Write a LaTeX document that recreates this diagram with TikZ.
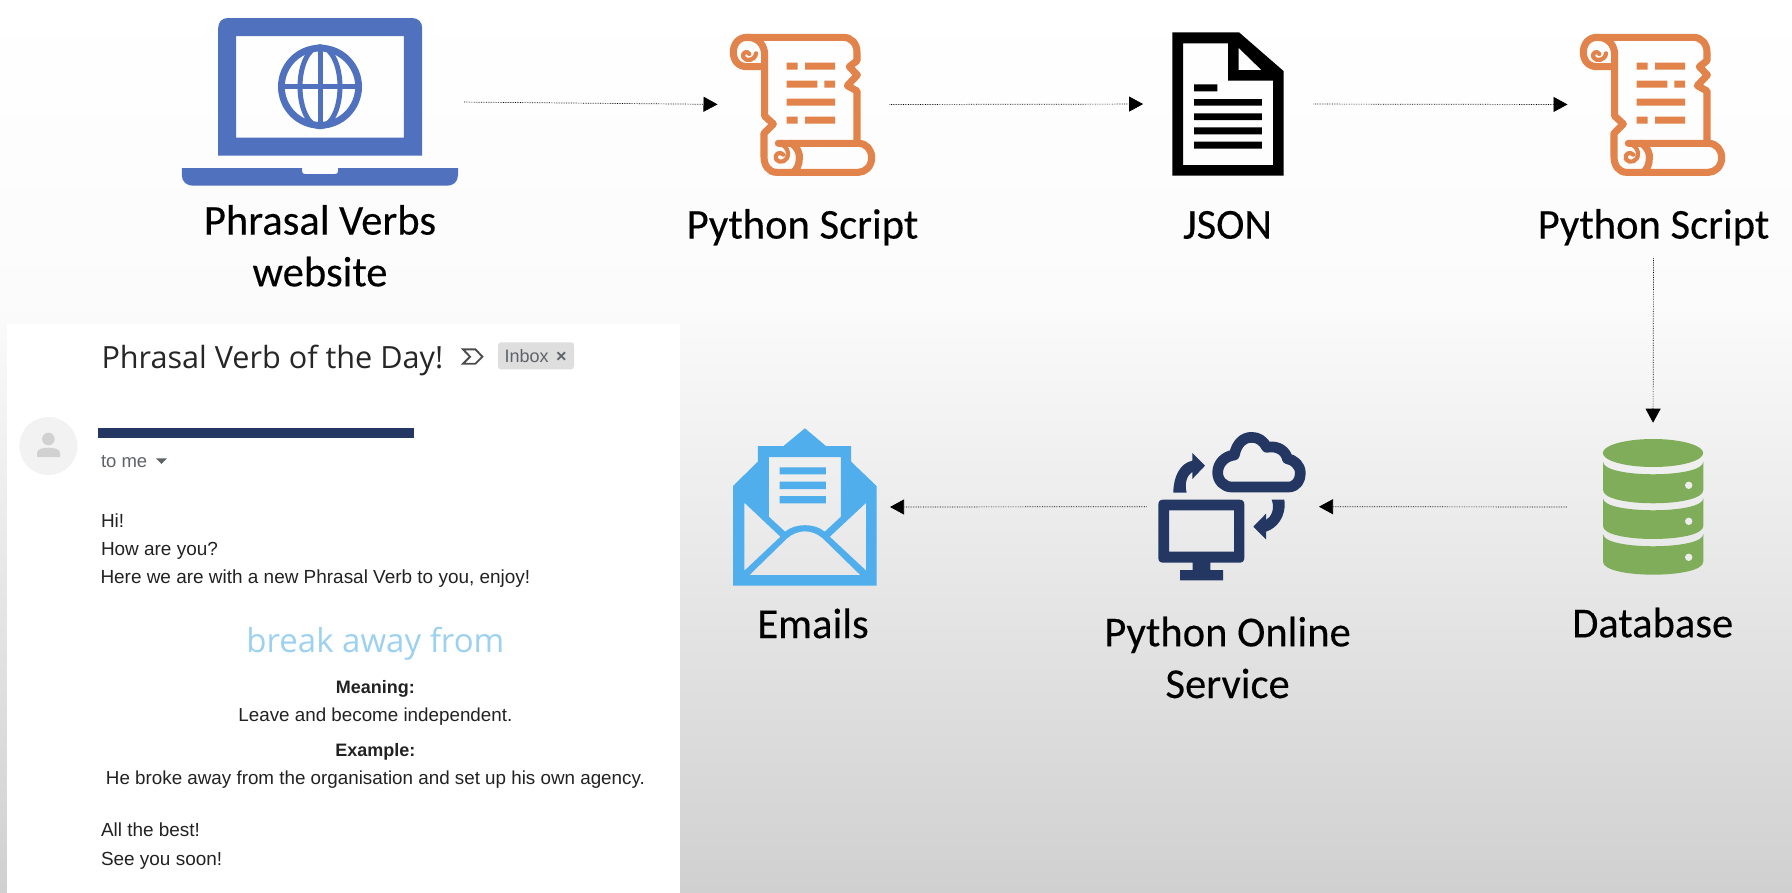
\documentclass[tikz,border=0pt]{standalone}
\usepackage{fontspec}
\setmainfont{Carlito}[FakeBold=0.25]
\newfontfamily\bodyfont{Liberation Sans}
\newfontfamily\headfont{Open Sans}
\usetikzlibrary{arrows.meta}
\definecolor{bgtop}{HTML}{FFFFFF}
\definecolor{bgmid}{HTML}{FBFBFB}
\definecolor{bgbot}{HTML}{D0D0D0}
\definecolor{laptopblue}{HTML}{4F71BE}
\definecolor{scrollorange}{HTML}{E1834A}
\definecolor{dbgreen}{HTML}{7FAD59}
\definecolor{mailblue}{HTML}{4FAEEB}
\definecolor{navy}{HTML}{243763}
\definecolor{mailgray}{HTML}{5F6368}
\definecolor{verbblue}{HTML}{9CD1F0}
\definecolor{mailink}{HTML}{222222}
\pgfdeclareverticalshading{pagebg}{100bp}{color(0bp)=(bgbot); color(25bp)=(bgbot); color(58bp)=(bgmid); color(75bp)=(bgtop); color(100bp)=(bgtop)}
\tikzset{
  iconbox/.style={inner sep=0pt,outer sep=0pt,draw=none},
  caption/.style={inner sep=0pt,outer sep=0pt,anchor=base,font=\fontsize{42.6}{52}\selectfont,text=black},
  flow/.style={draw=black,line width=0.7pt,densely dotted,-{Triangle[length=14pt,width=15pt]}},
  mailtext/.style={inner sep=0pt,outer sep=0pt,anchor=base west,text=mailink,font=\bodyfont\fontsize{18.95}{23}\selectfont},
  mailcenter/.style={inner sep=0pt,outer sep=0pt,anchor=base,text=mailink,font=\bodyfont\fontsize{18.8}{23}\selectfont},
  scrollline/.style={draw=scrollorange,line width=7.1pt,line join=round,line cap=round},
}
\newcommand{\scrollicon}[2]{%
\begin{scope}[shift={(#1,#2)},x=0.33333pt,y=-0.33333pt]
  \draw[scrollline] (82,52) -- (370,52) .. controls (395,52) and (411,72) .. (411,97) -- (411,122) -- (388,140) -- (412,165) -- (382,197) -- (411,213) -- (411,370);
  \draw[scrollline] (175,370) -- (415,370) .. controls (440,370) and (455,390) .. (455,413) .. controls (455,440) and (435,457) .. (415,457) -- (170,457) .. controls (145,457) and (132,435) .. (132,410) -- (132,340) -- (160,312) -- (134,288) -- (134,105) .. controls (134,75) and (115,52) .. (82,52) .. controls (55,52) and (40,72) .. (40,97) .. controls (40,122) and (55,140) .. (82,140) -- (134,140);
  \draw[scrollline,line width=4.2pt] (88,102) .. controls (82,90) and (64,98) .. (70,112) .. controls (78,126) and (106,122) .. (108,100);
  \draw[scrollline,line width=4.2pt] (190,404) .. controls (180,392) and (162,402) .. (168,418) .. controls (178,432) and (206,426) .. (204,398) .. controls (202,385) and (192,374) .. (175,370);
  \draw[scrollline] (215,370) .. controls (232,382) and (240,400) .. (238,415) .. controls (238,435) and (230,448) .. (220,457);
  \fill[scrollorange] (200,128) rectangle (233,149) (255,128) rectangle (345,149)
    (200,182) rectangle (292,203) (313,182) rectangle (345,203)
    (200,236) rectangle (345,257)
    (200,290) rectangle (233,311) (255,290) rectangle (345,311);
\end{scope}}
\begin{document}
\begin{tikzpicture}[x=1pt,y=-1pt]
\useasboundingbox (0,0) rectangle (1792,892);
\shade[shading=pagebg] (0,0) rectangle (1792,892);

% ---- laptop
\fill[laptopblue,even odd rule] (218.2,155.7) -- (218.2,28) .. controls (218.2,22) and (222,18) .. (228,18) -- (412,18) .. controls (418,18) and (422.2,22) .. (422.2,28) -- (422.2,155.7) -- cycle
  (236,36) rectangle (403.8,137.7);
\fill[laptopblue] (181.8,168) -- (302,168) -- (302,171) .. controls (302,173) and (303,174) .. (305,174) -- (335,174) .. controls (337,174) and (338,173) .. (338,171) -- (338,168) -- (458,168) -- (458,175) .. controls (458,182) and (453,185.7) .. (447,185.7) -- (193,185.7) .. controls (187,185.7) and (181.8,182) .. (181.8,175) -- cycle;
\draw[laptopblue,line width=6.8pt] (320,86.7) circle[radius=38.6];
\draw[laptopblue,line width=5pt] (320,86.7) ellipse[x radius=20,y radius=40];
\draw[laptopblue,line width=5pt] (320,46) -- (320,127) (281,86.7) -- (359,86.7);
\node[iconbox,minimum width=276.2pt,minimum height=167.7pt] (laptop) at (320,102) {};

% ---- scrolls
\scrollicon{720}{20}
\node[iconbox,minimum width=145pt,minimum height=141pt] (script1) at (803.5,104.5) {};
\scrollicon{1570}{20}
\node[iconbox,minimum width=145pt,minimum height=141pt] (script2) at (1653.5,104.5) {};

% ---- JSON document
\fill[black,even odd rule] (1172.4,32.3) -- (1239,32.3) -- (1283.5,71) -- (1283.5,175.7) -- (1172.4,175.7) -- cycle
  (1183.2,43.3) -- (1228.2,43.3) -- (1228.2,80.7) -- (1273,80.7) -- (1273,165) -- (1183.2,165) -- cycle
  (1238.5,47.7) -- (1261.4,70) -- (1238.5,70) -- cycle;
\fill[black] (1194,84.3) rectangle (1217.3,91.3)
  (1194,99) rectangle (1261.8,105.7) (1194,113.3) rectangle (1261.8,120)
  (1194,127.3) rectangle (1261.8,134.3) (1194,141.7) rectangle (1261.8,148.7);
\node[iconbox,minimum width=111pt,minimum height=143.4pt] (doc) at (1228,104) {};

% ---- database
\fill[dbgreen] (1653,453) ellipse[x radius=50.2,y radius=14];
\foreach \ta/\tb/\ba/\bb in {461.7/12.6/490/13.3, 498.3/12/526/13, 534/12.3/561.7/13}{
  \fill[dbgreen] (1603,\ta) .. controls (1603,\ta+1.33*\tb) and (1703.3,\ta+1.33*\tb) .. (1703.3,\ta)
    -- (1703.3,\ba) .. controls (1703.3,\ba+1.33*\bb) and (1603,\ba+1.33*\bb) .. (1603,\ba) -- cycle;
}
\fill[white!93!black] (1688.7,485.3) circle[radius=3.7] (1688.7,521.3) circle[radius=3.7] (1688.7,557.3) circle[radius=3.7];
\node[iconbox,minimum width=100.3pt,minimum height=136pt] (db) at (1653,507) {};

% ---- online service
\begin{scope}[shift={(1100,420)},x=0.33333pt,y=-0.33333pt]
  \fill[navy,even odd rule] (190,239) -- (418,239) .. controls (428,239) and (433,244) .. (433,254) -- (433,413) .. controls (433,423) and (428,428) .. (418,428) -- (331,428) -- (331,450) -- (369,450) -- (369,481) -- (240,481) -- (240,450) -- (278,450) -- (278,428) -- (190,428) .. controls (180,428) and (175,423) .. (175,413) -- (175,254) .. controls (175,244) and (180,239) .. (190,239) -- cycle
    (207,271) rectangle (402,395);
  \draw[navy,line width=10.7pt,line join=round] (395,201) -- (565,201) .. controls (590,201) and (601,180) .. (601,160) .. controls (601,135) and (582,120) .. (562,116) .. controls (558,95) and (535,75) .. (500,82) .. controls (490,62) and (475,52) .. (455,52) .. controls (430,52) and (410,70) .. (403,105) .. controls (375,108) and (353,130) .. (353,158) .. controls (353,182) and (372,201) .. (395,201) -- cycle;
  \fill[navy] (220,218) .. controls (220,170) and (240,130) .. (277,122) -- (277,99) -- (315,137) -- (277,177) -- (277,155) .. controls (262,165) and (252,190) .. (260,218) -- cycle;
  \fill[navy] (553,239) .. controls (560,290) and (530,325) .. (498,335) -- (498,358) -- (460,320) -- (498,281) -- (498,300) .. controls (515,290) and (525,265) .. (515,239) -- cycle;
\end{scope}
\node[iconbox,minimum width=147.4pt,minimum height=148pt] (service) at (1232,506.7) {};

% ---- emails
\fill[mailblue,even odd rule] (733,486) -- (757.8,461.7) -- (757.8,446) -- (783.5,446) -- (804.9,428.3) -- (825.9,446) -- (851.2,446) -- (851.2,461.7) -- (876.5,486) -- (876.5,585.7) -- (733,585.7) -- cycle
  (768.9,457) -- (840.9,457) -- (840.9,516.7) -- (824.7,531.7) .. controls (815,523) and (795,523) .. (785.1,531.7) -- (768.9,516.7) -- cycle
  (744.4,502.7) -- (780.4,536.7) -- (744.4,570.7) -- cycle
  (866.2,502.7) -- (829.8,536.7) -- (866.2,570.7) -- cycle
  (749.5,575) -- (860.3,575) -- (822.7,538.3) .. controls (812,529) and (798,529) .. (787.1,538.3) -- cycle;
\fill[mailblue] (779.6,467.3) rectangle (825.9,474.3) (779.6,481.7) rectangle (825.9,489) (779.6,496) rectangle (825.9,503.3);
\node[iconbox,minimum width=143.5pt,minimum height=157.4pt] (emails) at (804.8,507) {};

% ---- captions
\node[caption] (captionsite) at (320,234.6) {Phrasal Verbs};
\node[caption] (captionsite2) at (320,286.3) {website};
\node[caption] (captionscript1) at (802.5,238.6) {Python Script};
\node[caption] (captionjson) at (1227.5,238.6) {JSON};
\node[caption] (captionscript2) at (1653.5,238.6) {Python Script};
\node[caption] (captiondb) at (1652.7,637.3) {Database};
\node[caption] (captionmail) at (813,638) {Emails};
\node[caption] (captionservice) at (1227.6,646.3) {Python Online};
\node[caption] (captionservice2) at (1227.6,698) {Service};

% ---- connectors
\draw[flow,shorten <=6pt,shorten >=13.5pt] (laptop.east) -- (script1.west);
\draw[flow,shorten <=13.5pt,shorten >=29.4pt] (script1.east) -- (doc.west);
\draw[flow,shorten <=30pt,shorten >=13.5pt] (doc.east) -- (script2.west);
\draw[flow,shorten <=13pt,shorten >=16.3pt] (captionscript2.south) -- (db.north);
\draw[flow,shorten <=36pt,shorten >=13.3pt] (db.west) -- (service.east);
\draw[flow,shorten <=11.7pt,shorten >=13.5pt] (service.west) -- (emails.east);

% ---- email card
\fill[white] (7,324) rectangle (680,894);
\node[mailtext,font=\headfont\fontsize{30.6}{38}\selectfont,text=black!85] (mailtitle) at (101.5,368) {Phrasal Verb of the Day!};
\draw[black!70,line width=1.9pt,line join=miter] (463,349.3) -- (475.4,349.3) -- (482.4,356.7) -- (475.4,363.7) -- (463,363.7) -- (470,356.7) -- cycle;
\node[fill=black!13,rounded corners=3pt,minimum width=76pt,minimum height=27pt,inner sep=0pt] (inboxchip) at (536,355.8) {};
\node[mailtext,font=\bodyfont\fontsize{18}{20}\selectfont,text=mailgray] (inboxtext) at (504.5,362.3) {Inbox};
\node[mailtext,font=\bodyfont\bfseries\fontsize{18}{20}\selectfont,text=mailgray] (inboxx) at (556,362.3) {×};
\fill[white!95!black] (48.4,446) circle[radius=29];
\fill[black!18] (48.4,439) circle[radius=6.3];
\fill[black!18] (37,457) -- (37,453) .. controls (37,449) and (43,447.7) .. (48.4,447.7) .. controls (54,447.7) and (60,449) .. (60,453) -- (60,457) -- cycle;
\fill[navy] (98,428) rectangle (413.7,438.3);
\node[mailtext,font=\bodyfont\fontsize{18.5}{20}\selectfont,text=mailgray] (tome) at (101,467.5) {to me};
\fill[mailgray] (156,458.3) -- (167,458.3) -- (161.5,464) -- cycle;
\node[mailtext] (linehi) at (101,527.7) {Hi!};
\node[mailtext] (linehow) at (101,555.5) {How are you?};
\node[mailtext] (linehere) at (100.5,583.8) {Here we are with a new Phrasal Verb to you, enjoy!};
\node[mailcenter,font=\headfont\fontsize{33}{40}\selectfont,text=verbblue] (verb) at (375.4,652) {break away from};
\node[mailcenter,font=\bodyfont\bfseries\fontsize{18}{22}\selectfont] (meaninghead) at (375.4,693.3) {Meaning:};
\node[mailcenter] (meaning) at (375.4,721.7) {Leave and become independent.};
\node[mailcenter,font=\bodyfont\bfseries\fontsize{18}{22}\selectfont] (examplehead) at (375.4,756) {Example:};
\node[mailcenter] (example) at (375.4,784.3) {He broke away from the organisation and set up his own agency.};
\node[mailtext] (linebest) at (101,836) {All the best!};
\node[mailtext] (linesoon) at (101,865) {See you soon!};
\end{tikzpicture}
\end{document}
